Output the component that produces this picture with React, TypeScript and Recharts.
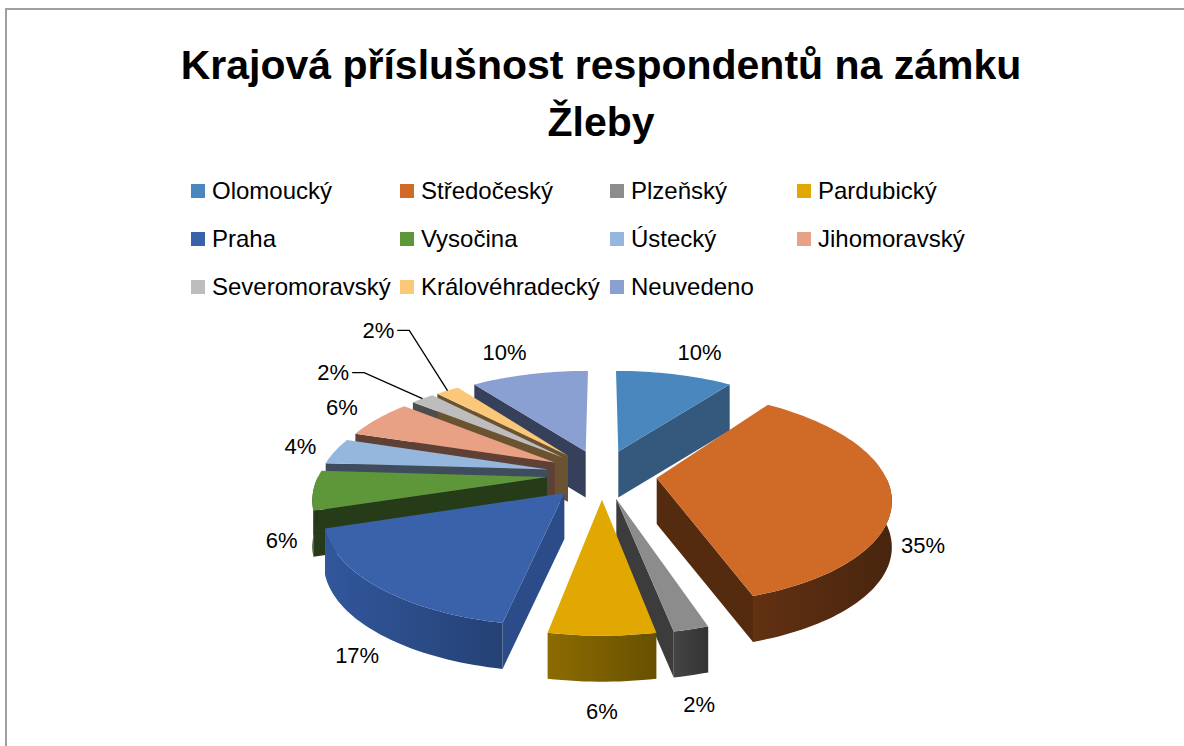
import React from 'react';
import { PieChart, Pie, Legend } from 'recharts';

const REGIONS = [
  'Olomoucký', 'Středočeský', 'Plzeňský', 'Pardubický', 'Praha', 'Vysočina',
  'Ústecký', 'Jihomoravský', 'Severomoravský', 'Královéhradecký', 'Neuvedeno',
];
const SHARES = [10, 35, 2, 6, 17, 6, 4, 6, 2, 2, 10];

const FACE_COLORS = [
  '#4A87BE', '#D06B27', '#8C8C8C', '#E0A800', '#3A62AA', '#5E963A',
  '#95B6DD', '#E9A185', '#BDBDBD', '#FAC878', '#8A9FD2',
];
const SIDE_COLORS = [
  '#35597C', '#552B10', '#3C3C3C', '#7A5E00', '#2B4C88', '#263B18',
  '#3E4C5E', '#5F4034', '#4D4D4D', '#6B5230', '#36405A',
];

const pieData = REGIONS.map((name, i) => ({ name, value: SHARES[i] }));

const FONT = '"Liberation Sans", Arial, sans-serif';
const PIE_CX = 602;
const PIE_CY = 474;
const PIE_R = 228;

// fake 3D: tilt + a bit of perspective, exploded slices
const PERSPECTIVE = 1300;
const TILT = 0.447;
const EXPLODE = 55;
const DEPTH = 46;
const WALL_LAYERS = 10;

type Pt = [number, number];
const rad = (d: number) => (d * Math.PI) / 180;

const proj = (cx: number, cy: number, u: number, v: number, drop = 0): Pt => {
  const f = PERSPECTIVE / (PERSPECTIVE - v);
  return [cx + u * f, cy + v * TILT * f + drop];
};

// t = angle clockwise from 12 o'clock, m = mid angle of slice (explode direction)
const slicePt = (cx: number, cy: number, r: number, t: number, m: number, drop = 0): Pt => {
  const u = r * Math.sin(rad(t)) + EXPLODE * Math.sin(rad(m));
  const v = -(r * Math.cos(rad(t)) + EXPLODE * Math.cos(rad(m)));
  return proj(cx, cy, u, v, drop);
};

const arcPts = (cx: number, cy: number, r: number, t1: number, t2: number, m: number, drop = 0) => {
  const n = Math.max(1, Math.ceil(Math.abs(t2 - t1) / 1.5));
  const pts: Pt[] = [];
  for (let i = 0; i <= n; i++) pts.push(slicePt(cx, cy, r, t1 + ((t2 - t1) * i) / n, m, drop));
  return pts;
};

const toPath = (pts: Pt[]) =>
  'M' + pts.map((p) => `${p[0].toFixed(1)},${p[1].toFixed(1)}`).join('L') + 'Z';

const shade = (hex: string, k: number) => {
  const n = parseInt(hex.slice(1), 16);
  const ch = [n >> 16, (n >> 8) & 255, n & 255].map((c) => Math.max(0, Math.min(255, Math.round(c * k))));
  return `rgb(${ch.join(',')})`;
};

const angles = (p: any) => ({
  t1: 90 - p.startAngle,
  t2: 90 - p.endAngle,
  tm: 90 - p.midAngle,
});

const renderWalls = (p: any, layer: number) => {
  const { cx, cy, outerRadius: r, index } = p;
  const { t1, t2, tm } = angles(p);
  const depth = -Math.cos(rad(tm));
  const band = Math.min(WALL_LAYERS - 1, Math.floor(((depth + 1) / 2) * WALL_LAYERS));
  if (band !== layer) return <g />;

  const side = SIDE_COLORS[index];
  const gid = `wall-grad-${index}`;
  const parts: React.ReactNode[] = [];

  if (Math.sin(rad(t1)) < -1e-6) {
    const pts = [slicePt(cx, cy, 0, t1, tm), slicePt(cx, cy, r, t1, tm), slicePt(cx, cy, r, t1, tm, DEPTH), slicePt(cx, cy, 0, t1, tm, DEPTH)];
    parts.push(<path key="s" d={toPath(pts)} fill={side} />);
  }
  if (Math.sin(rad(t2)) > 1e-6) {
    const pts = [slicePt(cx, cy, 0, t2, tm), slicePt(cx, cy, r, t2, tm), slicePt(cx, cy, r, t2, tm, DEPTH), slicePt(cx, cy, 0, t2, tm, DEPTH)];
    parts.push(<path key="e" d={toPath(pts)} fill={side} />);
  }
  const a = Math.max(t1, 90);
  const b = Math.min(t2, 270);
  if (b > a) {
    const pts = [...arcPts(cx, cy, r, a, b, tm), ...arcPts(cx, cy, r, b, a, tm, DEPTH)];
    parts.push(<path key="o" d={toPath(pts)} fill={`url(#${gid})`} />);
  }

  return (
    <g>
      <defs>
        <linearGradient id={gid} x1="0" y1="0" x2="1" y2="0">
          <stop offset="0%" stopColor={shade(side, 1.15)} />
          <stop offset="100%" stopColor={shade(side, 0.85)} />
        </linearGradient>
      </defs>
      {parts}
    </g>
  );
};

const renderFace = (p: any) => {
  const { cx, cy, outerRadius: r, index } = p;
  const { t1, t2, tm } = angles(p);
  const pts = [slicePt(cx, cy, 0, t1, tm), ...arcPts(cx, cy, r, t1, t2, tm)];
  return <path d={toPath(pts)} fill={FACE_COLORS[index]} />;
};

const renderValueLabel = (p: any) => {
  const { cx, cy, outerRadius: r, percent, index } = p;
  const { tm } = angles(p);
  const s = Math.sin(rad(tm));
  const c = Math.cos(rad(tm));
  const [ax, ay] = slicePt(cx, cy, r, tm, tm);
  const text = `${Math.round(percent * 100)}%`;
  const textStyle = { fontFamily: FONT, fontSize: 22, fill: '#000' };

  // thin slices at the back get a leader line
  if (percent < 0.03 && c > 0) {
    const total = SHARES.reduce((acc, x) => acc + x, 0);
    const rank = SHARES.filter((v, i) => {
      if (i >= index) return false;
      const before = SHARES.slice(0, i).reduce((acc, x) => acc + x, 0);
      const mid = ((before + v / 2) / total) * 360;
      return v / total < 0.03 && Math.cos(rad(mid)) > 0;
    }).length;
    const ex = ax + s * (80 - rank * 20);
    const ey = ay - c * (38 + rank * 40);
    const dir = s < 0 ? -1 : 1;
    const hx = ex + dir * 12;
    return (
      <g>
        <polyline points={`${ax},${ay} ${ex},${ey} ${hx},${ey}`} fill="none" stroke="#000" strokeWidth={1.3} />
        <text x={hx + dir * 3} y={ey} textAnchor={dir < 0 ? 'end' : 'start'} dominantBaseline="central" style={textStyle}>
          {text}
        </text>
      </g>
    );
  }

  const front = c < 0;
  const lx = ax + s * 32 + Math.sign(s) * 16 * Math.max(c, 0);
  const ly = ay - c * (front ? 30 : 23) + (front ? DEPTH : 0);
  return (
    <text x={lx} y={ly} textAnchor="middle" dominantBaseline="central" style={textStyle}>
      {text}
    </text>
  );
};

const COL_WIDTHS = [209, 210, 187, 200];

const renderLegend = () => (
  <div
    style={{
      display: 'grid',
      gridTemplateColumns: COL_WIDTHS.map((w) => `${w}px`).join(' '),
      fontFamily: FONT,
      fontSize: 24,
      lineHeight: '48px',
      color: '#000',
    }}
  >
    {REGIONS.map((name, i) => (
      <div key={name} style={{ display: 'flex', alignItems: 'center', whiteSpace: 'nowrap' }}>
        <span style={{ width: 14, height: 14, background: FACE_COLORS[i], marginRight: 7, flexShrink: 0 }} />
        <span>{name}</span>
      </div>
    ))}
  </div>
);

const pieProps = {
  data: pieData,
  dataKey: 'value',
  nameKey: 'name',
  cx: PIE_CX,
  cy: PIE_CY,
  outerRadius: PIE_R,
  startAngle: 90,
  endAngle: -270,
  fill: 'none',
  stroke: 'none',
  legendType: 'none' as const,
  isAnimationActive: false,
  labelLine: false,
};

export default function App() {
  return (
    <div style={{ position: 'absolute', left: 0, top: 0, width: 1184, height: 746, overflow: 'hidden', background: '#fff' }}>
      <div
        style={{
          position: 'absolute',
          left: 5,
          top: 8,
          width: 1300,
          height: 900,
          borderTop: '2px solid #A0A0A0',
          borderLeft: '2px solid #A0A0A0',
        }}
      />
      <div
        style={{
          position: 'absolute',
          left: 0,
          top: 37,
          width: 1202,
          textAlign: 'center',
          fontFamily: FONT,
          fontWeight: 'bold',
          fontSize: 41,
          lineHeight: '57px',
          color: '#000',
        }}
      >
        Krajová příslušnost respondentů na zámku
        <br />
        Žleby
      </div>
      <div style={{ position: 'absolute', left: 0, top: 0 }}>
        <PieChart width={1184} height={746} margin={{ top: 0, right: 0, bottom: 0, left: 0 }}>
          {Array.from({ length: WALL_LAYERS }, (_, j) => (
            <Pie key={`walls-${j}`} {...pieProps} label={(p: any) => renderWalls(p, j)} />
          ))}
          <Pie key="faces" {...pieProps} label={renderFace} />
          <Pie key="labels" {...pieProps} label={renderValueLabel} />
          <Legend
            layout="horizontal"
            verticalAlign="middle"
            align="center"
            wrapperStyle={{ left: 191, top: 167, width: 830 }}
            content={renderLegend}
          />
        </PieChart>
      </div>
    </div>
  );
}
